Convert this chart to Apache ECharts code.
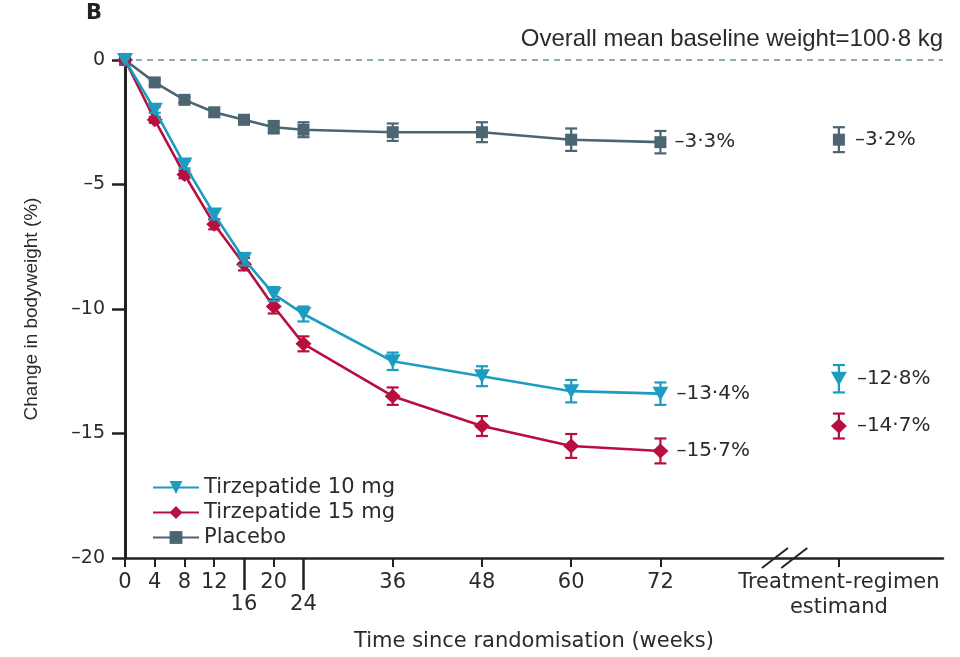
<!DOCTYPE html>
<html><head><meta charset="utf-8">
<script src="https://cdn.jsdelivr.net/npm/echarts@6/dist/echarts.min.js"></script>
<style>html,body{margin:0;padding:0;background:#fff}#c{width:960px;height:657px}</style>
</head><body><div id="c"></div>
<script>
// ---- data ----
const weeks = [0, 4, 8, 12, 16, 20, 24, 36, 48, 60, 72];
const tirz10 = [0, -2.0, -4.2, -6.2, -8.0, -9.4, -10.2, -12.1, -12.7, -13.3, -13.4];
const tirz10Err = [0, 0.12, 0.15, 0.2, 0.25, 0.28, 0.3, 0.35, 0.4, 0.45, 0.45];
const tirz15 = [0, -2.4, -4.6, -6.6, -8.2, -9.9, -11.4, -13.5, -14.7, -15.5, -15.7];
const tirz15Err = [0, 0.12, 0.15, 0.2, 0.25, 0.28, 0.3, 0.35, 0.4, 0.48, 0.5];
const placebo = [0, -0.9, -1.6, -2.1, -2.4, -2.7, -2.8, -2.9, -2.9, -3.2, -3.3];
const placeboErr = [0, 0.1, 0.12, 0.15, 0.18, 0.25, 0.3, 0.35, 0.4, 0.45, 0.45];
const seriesNames = ['Tirzepatide 10 mg', 'Tirzepatide 15 mg', 'Placebo'];
const estimandX = 96;
const estimandValues = [-12.8, -14.7, -3.2];
const estimandErr = [0.55, 0.5, 0.5];
const xTickValues = [0, 4, 8, 12, 20, 36, 48, 60, 72, 96];
const xTickValuesLow = [16, 24];
const breakMarks = [87.4, 90.0];
const yMin = -20, yMax = 0, yStep = 5;

// ---- style ----
const colors = ['#1b9cc0', '#b80f3f', '#4b6573'];
const symbols = ['triangle', 'diamond', 'rect'];
const symbolSizes = [[16, 14], [16, 15], [12, 12]];
const symbolRot = [180, 0, 0];
const txt = '#2b2b2b';
const fontMain = 'DejaVu Sans';
const fontNarrow = 'Liberation Sans';

const fmtPct = v => '\u2013' + Math.abs(v).toFixed(1).replace('.', '\u00b7') + '%';

function errSeries(name, xs, ys, errs, color, z) {
  return {
    type: 'custom', name: name, silent: true, z: z,
    data: xs.map((x, i) => [x, ys[i] - errs[i], ys[i] + errs[i]]),
    encode: { x: 0, y: [1, 2] },
    renderItem: function (params, api) {
      const x = api.value(0), lo = api.value(1), hi = api.value(2);
      if (hi - lo <= 0) return null;
      const p1 = api.coord([x, lo]), p2 = api.coord([x, hi]);
      const w = 6;
      const st = { stroke: color, lineWidth: 2.2 };
      return { type: 'group', children: [
        { type: 'line', shape: { x1: p1[0], y1: p1[1], x2: p2[0], y2: p2[1] }, style: st },
        { type: 'line', shape: { x1: p1[0] - w, y1: p1[1], x2: p1[0] + w, y2: p1[1] }, style: st },
        { type: 'line', shape: { x1: p2[0] - w, y1: p2[1], x2: p2[0] + w, y2: p2[1] }, style: st }
      ]};
    }
  };
}

const lineData = [tirz10, tirz15, placebo];
const errData = [tirz10Err, tirz15Err, placeboErr];
const zOrder = [6, 5, 4];

const series = [];
for (let k = 0; k < 3; k++) {
  const vals = lineData[k];
  series.push(errSeries(seriesNames[k] + ' SE', weeks, vals, errData[k], colors[k], zOrder[k]));
  series.push({
    type: 'line', name: seriesNames[k], z: zOrder[k] + 0.5,
    symbol: symbols[k], symbolSize: symbolSizes[k], symbolRotate: symbolRot[k],
    showSymbol: true,
    itemStyle: { color: colors[k] },
    lineStyle: { color: colors[k], width: 2.6 },
    data: weeks.map((w, i) => ({
      value: [w, vals[i]],
      label: i === vals.length - 1 ? { show: true } : { show: false }
    })),
    label: {
      position: 'right', distance: 8, color: txt, fontFamily: fontMain, fontSize: 20,
      formatter: p => fmtPct(p.value[1])
    },
    markLine: k === 2 ? {
      silent: true, symbol: 'none', label: { show: false },
      lineStyle: { type: [6, 5], color: '#6d8b9b', width: 1.6 },
      data: [{ yAxis: 0 }]
    } : undefined,
    animation: false
  });
  series.push(errSeries(seriesNames[k] + ' est SE', [estimandX], [estimandValues[k]], [estimandErr[k]], colors[k], zOrder[k]));
  series.push({
    type: 'scatter', name: seriesNames[k] + ' estimand', z: zOrder[k] + 0.5,
    symbol: symbols[k], symbolSize: symbolSizes[k], symbolRotate: symbolRot[k],
    itemStyle: { color: colors[k], opacity: 1 },
    data: [{ value: [estimandX, estimandValues[k]] }],
    label: {
      show: true, position: 'right', distance: 10, color: txt, fontFamily: fontMain, fontSize: 20,
      formatter: p => fmtPct(p.value[1])
    },
    animation: false
  });
}
series.push({
  type: 'custom', name: 'break', silent: true, z: 10,
  data: breakMarks.map(x => [x, yMin]),
  encode: { x: 0, y: 1 },
  renderItem: function (params, api) {
    const p = api.coord([api.value(0), api.value(1)]);
    return { type: 'line', shape: { x1: p[0] - 13, y1: p[1] + 10, x2: p[0] + 13, y2: p[1] - 10 },
      style: { stroke: '#222', lineWidth: 2 } };
  }
});

const chart = echarts.init(document.getElementById('c'), null, { renderer: 'canvas' });
chart.setOption({
  backgroundColor: '#fff',
  animation: false,
  grid: { left: 125, right: 17, top: 60, bottom: 95, containLabel: false },
  legend: {
    data: seriesNames, orient: 'vertical', left: 147, top: 472,
    itemWidth: 46, itemHeight: 16, itemGap: 4,
    textStyle: { color: txt, fontFamily: fontMain, fontSize: 21 },
    selectedMode: false
  },
  graphic: [
    { type: 'text', left: 86, top: 3, style: { text: 'B', fontSize: 21, fontWeight: 'bold', fill: '#222', fontFamily: fontMain } },
    { type: 'text', right: 17, top: 27, style: { text: 'Overall mean baseline weight=100\u00b78 kg', fontSize: 24, fill: txt, fontFamily: fontNarrow } }
  ],
  xAxis: [{
    type: 'value', min: 0, max: 110,
    name: 'Time since randomisation (weeks)', nameLocation: 'middle', nameGap: 73,
    nameTextStyle: { color: txt, fontFamily: fontMain, fontSize: 21 },
    axisLine: { onZero: false, lineStyle: { color: '#222', width: 2.5 } },
    axisTick: { customValues: xTickValues, length: 9, lineStyle: { color: '#222', width: 2 } },
    axisLabel: {
      customValues: xTickValues, margin: 12, color: txt, fontFamily: fontMain, fontSize: 21, lineHeight: 25,
      formatter: v => v === estimandX ? 'Treatment-regimen\nestimand' : String(v)
    },
    splitLine: { show: false }
  }, {
    type: 'value', min: 0, max: 110, position: 'bottom',
    axisLine: { show: false, onZero: false },
    axisTick: { customValues: xTickValuesLow, length: 32, lineStyle: { color: '#222', width: 2.5 } },
    axisLabel: { customValues: xTickValuesLow, margin: 36, color: txt, fontFamily: fontMain, fontSize: 21 },
    splitLine: { show: false }
  }],
  yAxis: {
    type: 'value', min: yMin, max: yMax, interval: yStep,
    name: 'Change in bodyweight (%)', nameLocation: 'middle', nameGap: 84, nameRotate: 90,
    nameTextStyle: { color: txt, fontFamily: fontNarrow, fontSize: 19 },
    axisLine: { onZero: false, lineStyle: { color: '#222', width: 3 } },
    axisTick: { length: 13, lineStyle: { color: '#222', width: 2.5 } },
    axisLabel: { margin: 20, color: txt, fontFamily: fontMain, fontSize: 19,
      formatter: v => v < 0 ? '\u2013' + Math.abs(v) : String(v) },
    splitLine: { show: false }
  },
  series: series
});
</script>
</body></html>
